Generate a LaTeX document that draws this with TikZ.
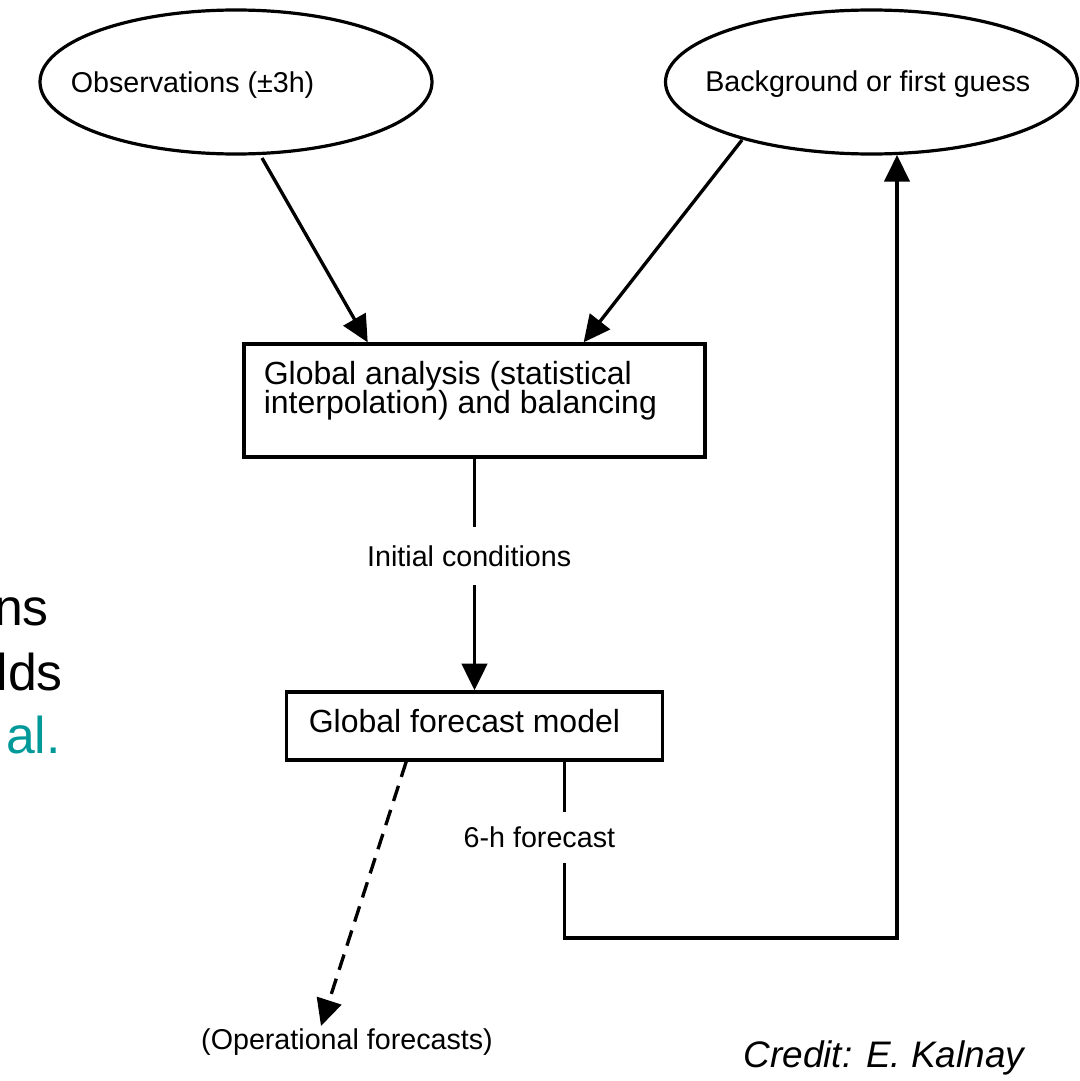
\documentclass[tikz,border=0pt]{standalone}
\usepackage{fontspec}
\setmainfont{Liberation Sans}
\usetikzlibrary{arrows.meta,shapes.geometric,calc}
\definecolor{slideteal}{RGB}{0,153,153}
\tikzset{%
	oval/.style = {ellipse,draw,line width=2.4pt,inner sep=0},
	block/.style = {rectangle,draw,line width=2.5pt,inner sep=0},
	lbl/.style = {inner sep=0,font=\fontsize{21.5}{24}\selectfont},
	boxtxt/.style = {inner sep=0,align=left,font={\fontsize{24}{22}\selectfont\lineskiplimit=-30pt}},
	frag/.style = {anchor=base east,inner sep=0,font=\fontsize{38.8}{46}\selectfont},
	gapfill/.style = {fill=white,inner xsep=2pt,inner ysep=#1},
	flow/.style = {line width=2.5pt,-{Triangle[length=20pt,width=19pt]}}%
}

\begin{document}
\begin{tikzpicture}[x=0.75pt,y=-0.75pt]
			\useasboundingbox (0,0) rectangle (1079,1081);
			
			% cut-off slide text at the left border
			\node[frag] (frag1) at (49,625) {ns};
			\node[frag] (frag2) at (63,690) {lds};
			\node[frag,text=slideteal] (frag3) at (61,753) {al.};
			
			% inputs
			\node[oval,minimum width=294pt,minimum height=108pt] (obs) at (236,82) {};
			\node[lbl,anchor=base west] (obs-txt) at (70.5,92.5) {Observations (±3h)};
			\node[oval,minimum width=309pt,minimum height=108pt] (bg) at (871.5,82) {};
			\node[lbl,anchor=base west] (bg-txt) at (705,92) {Background or first guess};
			
			% analysis and model
			\node[block,minimum width=345.75pt,minimum height=84.75pt] (ana) at (474.5,400.5) {};
			\node[boxtxt,anchor=north west] (ana-txt) at (263.5,361) {Global analysis (statistical\\interpolation) and balancing};
			\node[block,minimum width=282pt,minimum height=51pt] (fc) at (474.5,726) {};
			\node[boxtxt,anchor=base west] (fc-txt) at (308.5,732) {Global forecast model};
			
			\node[lbl,anchor=base] (ops) at (347,1049) {(Operational forecasts)};
			\node[anchor=base,inner sep=0,font=\fontsize{27.7}{32}\selectfont\itshape] (credit) at (884,1067) {Credit: E. Kalnay};
			
			\coordinate (obs-out) at (262,158);
			\coordinate (bg-out) at (742,140);
			\coordinate (ana-l) at ($(ana.north west)!.27!(ana.north east)$);
			\coordinate (ana-r) at ($(ana.north west)!.735!(ana.north east)$);
			\coordinate (ops-out) at ($(fc.south west)!.32!(fc.south east)$);
			\coordinate (ops-in) at (321,1026);
			\coordinate (fc-out) at ($(fc.south west)!.737!(fc.south east)$);
			\coordinate (loop) at (564,938);
			\coordinate (bg-in) at (897,155);
			
			\draw[flow] (obs-out) -- (ana-l);
			\draw[flow] (bg-out) -- (ana-r);
			\draw[flow] (ana) -- node[lbl,gapfill=14pt,pos=.42,xshift=-4pt] (ic) {Initial conditions} (fc);
			\draw[flow,dash pattern=on 12pt off 7pt] (ops-out) -- (ops-in);
			\draw[flow] (fc-out) -- node[lbl,gapfill=11pt,pos=.43,xshift=-18.75pt] (six) {6-h forecast} (fc-out |- loop) -| (bg-in);
\end{tikzpicture}
\end{document}
